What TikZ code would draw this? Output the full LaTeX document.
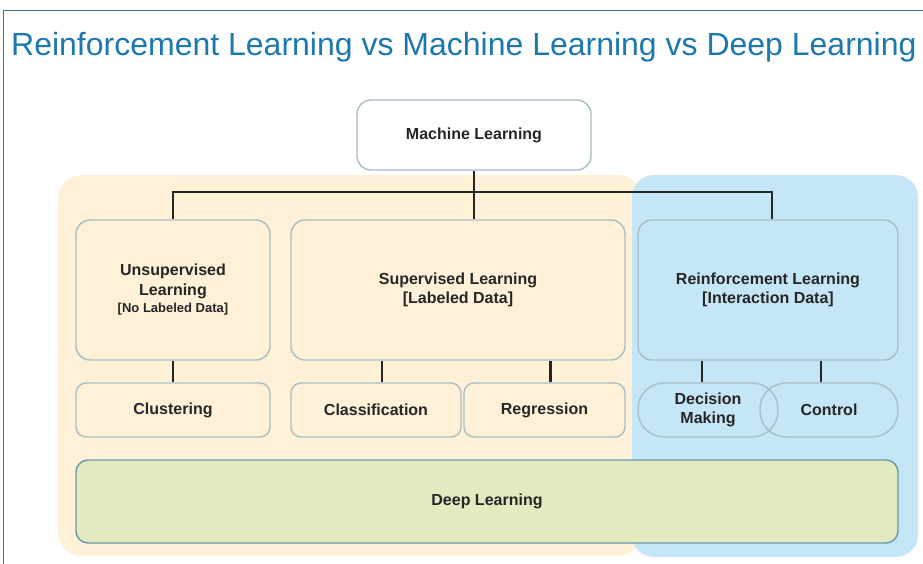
\documentclass[tikz,border=0pt]{standalone}
\usepackage{fontspec}
\setmainfont{Liberation Sans}
\begin{document}
\begin{tikzpicture}[x=1pt,y=-1pt,
  box/.style={draw=boxline, line width=1.4pt, rounded corners=14pt, align=center,
    font=\fontsize{16}{19.5}\selectfont\bfseries, text=black!85, inner sep=0pt},
  pill/.style={box, rounded corners=26pt},
  link/.style={line width=2.4pt, draw=black!85}]
\definecolor{boxline}{HTML}{A7BEC6}
\definecolor{frameblue}{HTML}{3C6E9C}
\definecolor{titleblue}{HTML}{1C78AD}
\definecolor{cream}{HTML}{FEF1D7}
\definecolor{skyblue}{HTML}{C5E6F6}
\definecolor{leaf}{HTML}{E2EBC0}
\definecolor{dlline}{HTML}{6A98AC}
\useasboundingbox (0,0) rectangle (923,564);
\fill[white] (0,0) rectangle (923,564);
% outer frame
\draw[frameblue, line width=1pt] (3,564) -- (3,11) -- (923,11);
% title
\node[anchor=base west, text=titleblue, font=\fontsize{32}{36}\selectfont, inner sep=0pt] (title) at (11,56)
  {Reinforcement Learning vs Machine Learning vs Deep Learning};
% background regions
\fill[cream, rounded corners=24pt] (58,175) rectangle (642,556);
\fill[skyblue, rounded corners=22pt] (632,175) rectangle (918,557);
% top node
\node[box, fill=white, minimum width=234pt, minimum height=70pt] (ml) at (474,135) {Machine Learning};
% second level
\node[box, minimum width=194pt, minimum height=140pt] (uns) at (173,290)
  {Unsupervised\\Learning\\[-2pt]{\fontsize{13}{15}\selectfont [No Labeled Data]}};
\node[box, minimum width=334pt, minimum height=140pt] (sup) at (458,290)
  {Supervised Learning\\{}[Labeled Data]};
\node[box, minimum width=260pt, minimum height=140pt] (rl) at (768,290)
  {Reinforcement Learning\\{}[Interaction Data]};
% third level
\node[box, rounded corners=10pt, minimum width=194pt, minimum height=54pt] (clu) at (173,410) {Clustering};
\node[box, rounded corners=10pt, minimum width=170pt, minimum height=54pt] (cla) at (376,410) {Classification};
\node[box, rounded corners=10pt, minimum width=161pt, minimum height=54pt] (reg) at (544.5,410) {Regression};
\node[pill, minimum width=140pt, minimum height=54pt] (dec) at (708,410) {Decision\\Making};
\node[pill, minimum width=138pt, minimum height=54pt] (con) at (829,410) {Control};
% deep learning band
\node[box, draw=dlline, fill=leaf, rounded corners=12pt, minimum width=822pt, minimum height=83pt] (dl) at (487,501.5) {Deep Learning};
% connectors
\coordinate (bus) at (474,192);
\draw[link] (ml.south) -- (ml.south |- sup.north);
\draw[link] (uns.north) -- (uns.north |- bus) -- ([xshift=4pt]rl.north |- bus) -- ([xshift=4pt]rl.north);
\draw[link] (uns.south) -- (clu.north);
\draw[link] ([xshift=6pt]cla.north) -- ([xshift=6pt]cla.north |- sup.south);
\draw[link] ([xshift=6pt]reg.north) -- ([xshift=6pt]reg.north |- sup.south);
\draw[link] ([xshift=-6pt]dec.north) -- ([xshift=-6pt]dec.north |- rl.south);
\draw[link] ([xshift=-8pt]con.north) -- ([xshift=-8pt]con.north |- rl.south);
\end{tikzpicture}
\end{document}
